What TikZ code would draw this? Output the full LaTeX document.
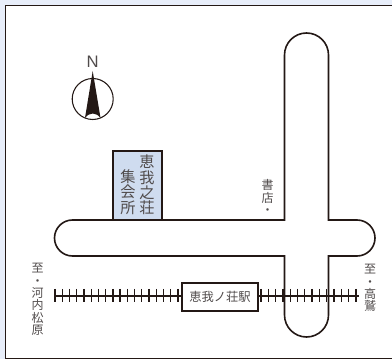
\documentclass[tikz,border=0pt]{standalone}
\usepackage{fontspec}
\setmainfont{Liberation Sans}
\newfontfamily\cjk{Noto Sans CJK JP}
\definecolor{ink}{HTML}{231815}
\definecolor{txt}{HTML}{504B4B}
\definecolor{page}{HTML}{E8EEFA}
\definecolor{bldg}{HTML}{CFDCEF}
\tikzset{
  px/.style={x=0.75pt,y=-0.75pt},
  road/.style={draw=ink,line width=1.2pt,fill=white},
  lbl/.style={text=txt,font=\cjk\fontsize{9}{9.25}\selectfont,align=center,inner sep=0pt},
  blabel/.style={text=txt,font=\cjk\fontsize{11.4}{11.6}\selectfont,align=center,inner sep=0pt},
  railline/.style={draw=ink,line width=1.5pt},
  tie/.style={draw=ink,line width=1pt},
  bldgbox/.style={draw=ink,line width=1.5pt,fill=bldg,inner sep=0pt},
}
\begin{document}
\begin{tikzpicture}[px]
\useasboundingbox (0,0) rectangle (392,359);
\fill[page] (0,0) rectangle (392,359);
\draw[ink,line width=1.3pt,fill=white] (5.5,5.5) -- (396,5.5) -- (396,358.5) -- (5.5,358.5) -- cycle;
% roads
\draw[road] (284.5,220) -- (284.5,55) arc[start angle=180,end angle=360,radius=22] -- (328.5,220)
  -- (357,220) arc[start angle=270,end angle=450,radius=18] -- (328.5,256)
  -- (328.5,315) arc[start angle=0,end angle=180,radius=22] -- (284.5,256)
  -- (72.5,256) arc[start angle=90,end angle=270,radius=18] -- cycle;
% building
\node[bldgbox,minimum width=36.75pt,minimum height=51.75pt] (bld) at (137.2,185.5) {};
\node[blabel] (b1) at (147,185) {恵\\我\\之\\荘};
\node[blabel] (b2) at (128,192) {集\\会\\所};
% rail
\coordinate (railL) at (54,296);
\coordinate (railR) at (359,296);
\foreach \x in {0,...,17} \draw[tie] (55+\x*7.235,289) -- (55+\x*7.235,302);
\foreach \x in {0,...,13} \draw[tie] (261+\x*7.3,289) -- (261+\x*7.3,302);
\node[draw=ink,line width=1.5pt,fill=white,minimum width=57pt,minimum height=21pt,inner sep=0pt,text=txt,font=\cjk\fontsize{9.2}{10}\selectfont] (stn) at (220,297) {恵我ノ荘駅};
\draw[railline] (railL) -- (stn.west |- railL);
\draw[railline] (stn.east |- railR) -- (railR);
% labels
\node[lbl] (l1) at (37.5,299.5) {至\\・\\河\\内\\松\\原};
\node[lbl] (l2) at (370,288) {至\\・\\高\\鷲};
\node[lbl] (l3) at (267.7,197) {書\\店\\・};
% compass
\node[circle,draw=ink,line width=0.8pt,minimum size=30.75pt,inner sep=0pt] (cmp) at (92.7,99) {};
\fill[ink] (92.7,71) -- (100.5,118) .. controls (96,112) and (89.5,112) .. (85,118) -- cycle;
\node[text=txt,font=\fontsize{12.5}{13}\selectfont,inner sep=0pt] (N) at (92.7,61.7) {N};
\end{tikzpicture}
\end{document}
